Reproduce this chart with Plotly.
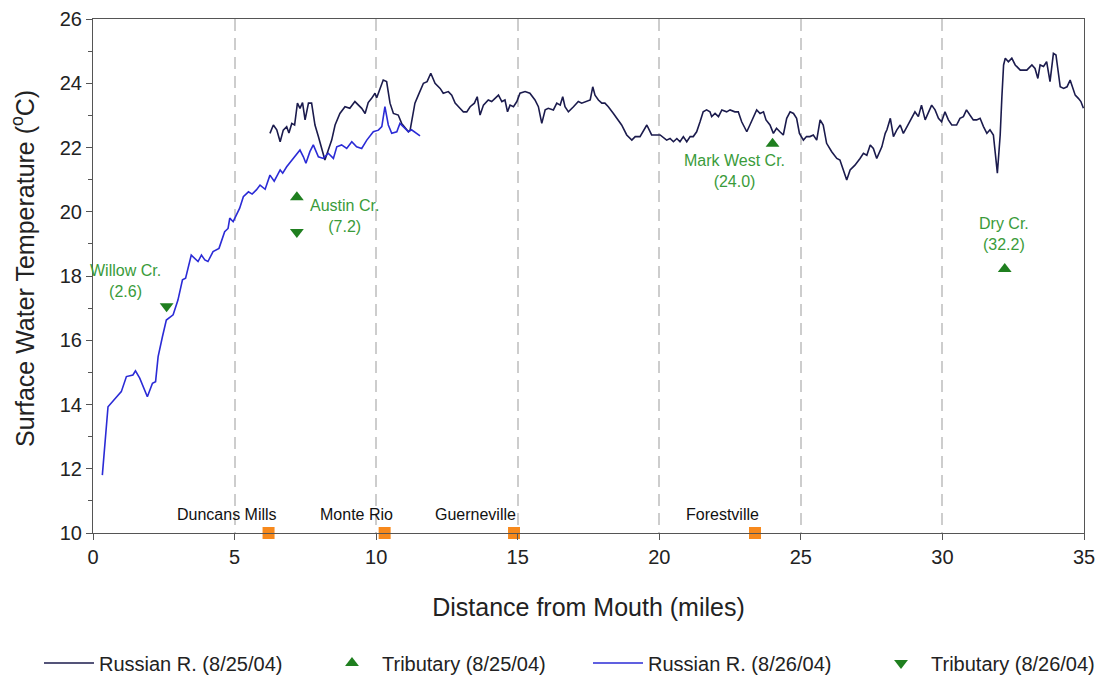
import plotly.graph_objects as go

# Russian R. (8/25/04)
x_0825 = [6.25, 6.37, 6.49, 6.61, 6.72, 6.84, 6.92, 7.02, 7.12, 7.22, 7.31, 7.40, 7.49, 7.61, 7.72, 7.84, 7.96,
          8.08, 8.19, 8.31, 8.43, 8.55, 8.72, 8.90, 9.07, 9.25, 9.37, 9.49, 9.61, 9.72, 9.84, 9.96, 10.02, 10.14,
          10.25, 10.37, 10.49, 10.61, 10.78, 10.90, 11.02, 11.14, 11.20, 11.37, 11.49, 11.67, 11.80, 11.93, 12.08,
          12.26, 12.37, 12.55, 12.67, 12.79, 12.96, 13.08, 13.20, 13.32, 13.47, 13.57, 13.67, 13.79, 13.96, 14.08,
          14.20, 14.32, 14.44, 14.55, 14.64, 14.73, 14.85, 14.97, 15.08, 15.26, 15.43, 15.61, 15.73, 15.85, 15.97,
          16.08, 16.26, 16.38, 16.50, 16.59, 16.67, 16.79, 16.97, 17.14, 17.26, 17.44, 17.56, 17.65, 17.73, 17.85,
          17.97, 18.08, 18.20, 18.38, 18.50, 18.67, 18.85, 19.03, 19.15, 19.32, 19.56, 19.73, 19.91, 20.03, 20.26,
          20.38, 20.50, 20.62, 20.73, 20.85, 20.97, 21.09, 21.20, 21.32, 21.44, 21.55, 21.67, 21.79, 21.85, 21.97,
          22.09, 22.21, 22.38, 22.50, 22.67, 22.79, 22.91, 23.09, 23.20, 23.32, 23.44, 23.56, 23.68, 23.77, 23.91,
          24.03, 24.14, 24.26, 24.38, 24.50, 24.62, 24.74, 24.85, 24.95, 25.09, 25.20, 25.32, 25.44, 25.56, 25.68,
          25.79, 25.91, 26.09, 26.27, 26.38, 26.50, 26.62, 26.74, 26.91, 27.09, 27.21, 27.33, 27.45, 27.56, 27.68,
          27.86, 27.98, 28.04, 28.16, 28.27, 28.39, 28.51, 28.62, 28.75, 28.91, 29.03, 29.15, 29.26, 29.39, 29.50,
          29.62, 29.74, 29.86, 29.97, 30.09, 30.21, 30.33, 30.50, 30.62, 30.74, 30.85, 30.97, 31.09, 31.21, 31.33,
          31.45, 31.57, 31.68, 31.80, 31.94, 32.04, 32.10, 32.16, 32.22, 32.33, 32.45, 32.57, 32.75, 32.98, 33.16,
          33.27, 33.37, 33.45, 33.57, 33.68, 33.80, 33.92, 34.01, 34.16, 34.28, 34.40, 34.51, 34.60, 34.69, 34.80,
          34.89, 34.98]
y_0825 = [22.44, 22.70, 22.55, 22.18, 22.54, 22.65, 22.45, 22.75, 22.70, 23.38, 23.22, 23.40, 22.86, 23.38, 23.38,
          22.70, 22.34, 21.92, 21.61, 21.92, 22.23, 22.70, 23.06, 23.27, 23.22, 23.43, 23.32, 23.22, 23.06, 23.40,
          23.53, 23.69, 23.55, 23.84, 24.10, 24.05, 23.38, 23.06, 23.01, 22.75, 22.60, 22.49, 22.54, 23.38, 23.63,
          24.00, 24.05, 24.31, 24.00, 23.84, 23.69, 23.74, 23.63, 23.38, 23.22, 23.11, 23.11, 23.27, 23.38, 23.58,
          23.01, 23.32, 23.48, 23.43, 23.53, 23.63, 23.43, 23.48, 23.11, 23.32, 23.27, 23.43, 23.69, 23.74, 23.69,
          23.48, 23.27, 22.75, 23.17, 23.22, 23.17, 23.38, 23.32, 23.58, 23.27, 23.11, 23.27, 23.43, 23.38, 23.43,
          23.48, 23.89, 23.63, 23.48, 23.38, 23.38, 23.27, 23.06, 22.91, 22.70, 22.39, 22.23, 22.34, 22.34, 22.70,
          22.39, 22.39, 22.39, 22.23, 22.28, 22.18, 22.28, 22.18, 22.34, 22.18, 22.34, 22.34, 22.49, 22.80, 23.11,
          23.17, 23.11, 22.96, 23.06, 22.96, 23.17, 23.11, 23.17, 23.11, 23.11, 22.80, 22.49, 22.70, 22.91, 23.17,
          23.06, 23.11, 22.86, 22.70, 22.44, 22.60, 22.49, 22.39, 22.91, 23.11, 23.06, 22.91, 22.44, 22.23, 22.34,
          22.34, 22.39, 22.23, 22.86, 22.70, 22.13, 21.87, 21.66, 21.61, 21.30, 20.99, 21.30, 21.45, 21.66, 21.82,
          21.76, 22.08, 21.97, 21.66, 22.02, 22.44, 22.55, 22.91, 22.34, 22.55, 22.70, 22.44, 22.65, 22.91, 23.11,
          22.96, 23.32, 22.86, 23.06, 23.32, 23.17, 22.91, 22.80, 23.11, 22.86, 22.70, 22.70, 22.91, 22.96, 23.17,
          23.01, 22.86, 22.86, 22.91, 22.65, 22.44, 22.55, 22.39, 21.20, 22.39, 23.58, 24.57, 24.78, 24.67, 24.78,
          24.57, 24.41, 24.41, 24.57, 24.46, 24.15, 24.57, 24.52, 24.67, 24.05, 24.93, 24.88, 23.89, 23.84, 23.89,
          24.10, 23.89, 23.63, 23.53, 23.43, 23.22]

# Russian R. (8/26/04)
x_0826 = [0.33, 0.53, 0.80, 1.00, 1.18, 1.41, 1.50, 1.65, 1.92, 2.10, 2.21, 2.30, 2.45, 2.59, 2.83, 3.00, 3.16,
          3.27, 3.47, 3.59, 3.71, 3.83, 3.95, 4.06, 4.24, 4.45, 4.65, 4.77, 4.83, 4.95, 5.18, 5.31, 5.49, 5.62,
          5.77, 5.90, 6.08, 6.25, 6.40, 6.61, 6.70, 6.84, 7.02, 7.19, 7.31, 7.43, 7.52, 7.66, 7.78, 7.96, 8.13,
          8.31, 8.49, 8.61, 8.78, 8.96, 9.14, 9.31, 9.49, 9.67, 9.90, 10.08, 10.20, 10.31, 10.43, 10.55, 10.73,
          10.84, 11.02, 11.14, 11.25, 11.43, 11.55]
y_0826 = [11.80, 13.93, 14.20, 14.40, 14.87, 14.92, 15.05, 14.82, 14.24, 14.66, 14.71, 15.49, 16.10, 16.63, 16.79,
          17.25, 17.88, 17.93, 18.65, 18.55, 18.45, 18.65, 18.50, 18.45, 18.76, 18.86, 19.38, 19.48, 19.80, 19.69,
          20.11, 20.47, 20.62, 20.55, 20.68, 20.83, 20.70, 21.14, 20.95, 21.30, 21.20, 21.40, 21.61, 21.77, 21.92,
          21.71, 21.51, 21.87, 22.08, 21.71, 21.66, 21.82, 21.66, 22.02, 22.08, 21.97, 22.18, 22.02, 21.97, 22.23,
          22.49, 22.54, 22.65, 23.27, 22.70, 22.44, 22.49, 22.75, 22.60, 22.49, 22.55, 22.44, 22.36]

# Tributaries
trib_0825_x = [7.2, 24.0, 32.2]
trib_0825_y = [20.45, 22.12, 18.22]
trib_0826_x = [2.6, 7.2]
trib_0826_y = [17.06, 19.37]
trib_names = ["Willow Cr.<br>(2.6)", "Austin Cr.<br>(7.2)", "Mark West Cr.<br>(24.0)", "Dry Cr.<br>(32.2)"]
trib_label_x = [1.13, 8.87, 22.67, 32.18]
trib_label_y = [17.83, 19.88, 21.27, 19.31]

# Towns
town_names = ["Duncans Mills", "Monte Rio", "Guerneville", "Forestville"]
town_x = [6.2, 10.3, 14.87, 23.38]
town_label_x = [4.72, 9.3, 13.5, 22.25]

ink = "#1b1b4d"
blue = "#2b2bd6"
green_m = "#1f7f1f"
green_t = "#3a9b3a"
orange = "#f7891c"
font = "Liberation Sans, Arial, sans-serif"
txt = "#222222"

fig = go.Figure()
fig.add_trace(go.Scatter(x=x_0825, y=y_0825, mode="lines", name="Russian R. (8/25/04)", legend="legend",
                         line=dict(color=ink, width=1.6)))
fig.add_trace(go.Scatter(x=trib_0825_x, y=trib_0825_y, mode="markers", name="Tributary (8/25/04)",
                         legend="legend", marker=dict(symbol="triangle-up", color=green_m, size=12),
                         cliponaxis=False))
fig.add_trace(go.Scatter(x=x_0826, y=y_0826, mode="lines", name="Russian R. (8/26/04)", legend="legend2",
                         line=dict(color=blue, width=1.6)))
fig.add_trace(go.Scatter(x=trib_0826_x, y=trib_0826_y, mode="markers", name="Tributary (8/26/04)",
                         legend="legend2", marker=dict(symbol="triangle-down", color=green_m, size=12),
                         cliponaxis=False))
fig.add_trace(go.Scatter(x=town_x, y=[10] * len(town_x), mode="markers", showlegend=False,
                         marker=dict(symbol="square", color=orange, size=12), cliponaxis=False))

for name, tx in zip(town_names, town_label_x):
    fig.add_annotation(x=tx, y=10, yshift=19, text=name, showarrow=False,
                       font=dict(size=16, color="#111111", family=font))
for name, lx, ly in zip(trib_names, trib_label_x, trib_label_y):
    fig.add_annotation(x=lx, y=ly, text=name, showarrow=False,
                       font=dict(size=16, color=green_t, family=font))

# y-axis title (placed as rotated text so it can sit further left than the margin allows)
fig.add_annotation(xref="paper", yref="paper", x=-0.0700, y=0.515, text="Surface Water Temperature (<sup>o</sup>C)",
                   textangle=-90, showarrow=False, xanchor="center", yanchor="middle",
                   font=dict(size=25, color=txt, family=font))

legend_common = dict(orientation="h", y=-0.253, yanchor="middle", xanchor="left",
                     font=dict(size=20, color=txt, family=font), entrywidth=218, itemwidth=50,
                     bgcolor="rgba(0,0,0,0)")

# the page body adds an 8px offset, so margins are shifted to keep the plot area in place
fig.update_layout(
    width=1111, height=669,
    margin=dict(l=85, r=35, t=11, b=144, autoexpand=False),
    paper_bgcolor="white", plot_bgcolor="white",
    font=dict(family=font, color=txt),
    showlegend=True,
    legend=dict(x=-0.0545, **legend_common),
    legend2=dict(x=0.4995, **legend_common),
    xaxis=dict(range=[0, 35], dtick=5, tick0=0, showgrid=True, gridcolor="#cdcdcd", griddash="12px,7px",
               gridwidth=1.5, zeroline=False, showline=True, linecolor="#555555", linewidth=1.2, mirror=True,
               ticks="outside", ticklen=6, tickcolor="#555555",
               tickfont=dict(size=20, color=txt),
               title=dict(text="Distance from Mouth (miles)", font=dict(size=25, color=txt), standoff=31)),
    yaxis=dict(range=[10, 26], dtick=2, tick0=10, showgrid=False, zeroline=False, showline=True,
               linecolor="#555555", linewidth=1.2, mirror=True, ticks="outside", ticklen=6, tickcolor="#555555",
               minor=dict(dtick=1, ticks="outside", ticklen=4, tickcolor="#555555"),
               tickfont=dict(size=20, color=txt)),
)

fig.write_html("out.html")
